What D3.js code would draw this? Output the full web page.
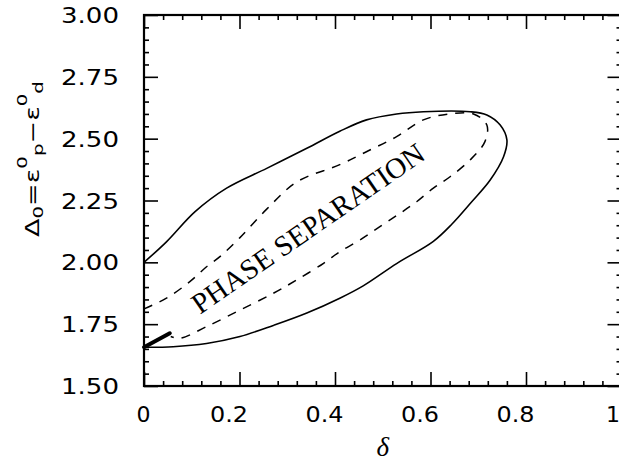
<!DOCTYPE html>
<html>
<head>
<meta charset="utf-8">
<script src="https://cdn.jsdelivr.net/npm/d3@7"></script>
<style>
  html, body { margin: 0; padding: 0; background: #fff; }
  svg { display: block; }
</style>
</head>
<body>
<div id="chart"></div>
<script>
'use strict'

// tick values and labels
const deltaTicks = [0, 0.2, 0.4, 0.6, 0.8, 1];
const deltaTickLabels = ['0', '0.2', '0.4', '0.6', '0.8', '1'];
const gapTicks = [1.5, 1.75, 2.0, 2.25, 2.5, 2.75, 3.0];
const gapTickLabels = ['1.50', '1.75', '2.00', '2.25', '2.50', '2.75', '3.00'];

// outer (solid) boundary
const solidDelta = [0, 0.047, 0.107, 0.173, 0.257, 0.341, 0.41, 0.466, 0.529, 0.585, 0.683,
  0.718, 0.746, 0.76, 0.753, 0.725, 0.685, 0.645, 0.606, 0.529, 0.459, 0.41, 0.341,
  0.271, 0.201, 0.131, 0.061, 0];
const solidGap = [2.0, 2.083, 2.205, 2.30, 2.38, 2.461, 2.53, 2.576, 2.60, 2.609, 2.609,
  2.596, 2.555, 2.495, 2.427, 2.333, 2.242, 2.155, 2.085, 1.995, 1.905, 1.855, 1.795,
  1.745, 1.70, 1.672, 1.659, 1.657];

// inner (dashed) boundary
const dashedDelta = [0, 0.047, 0.096, 0.131, 0.159, 0.201, 0.257, 0.32, 0.41, 0.473, 0.529,
  0.585, 0.64, 0.69, 0.718, 0.714, 0.683, 0.641, 0.606, 0.571, 0.536, 0.494, 0.452,
  0.41, 0.376, 0.32, 0.271, 0.201, 0.131, 0.075, 0.056];
const dashedGap = [1.812, 1.855, 1.922, 1.982, 2.023, 2.10, 2.215, 2.325, 2.395, 2.454, 2.508,
  2.576, 2.60, 2.60, 2.555, 2.488, 2.414, 2.346, 2.30, 2.245, 2.198, 2.144, 2.09,
  2.043, 1.996, 1.929, 1.875, 1.807, 1.74, 1.693, 1.70];

// short first-order segment near the origin
const firstOrderDelta = [0, 0.054];
const firstOrderGap = [1.657, 1.713];

const regionLabel = 'PHASE SEPARATION';
const regionLabelAt = [0.355, 2.105];

const width = 619;
const height = 465;
const margin = { top: 15, left: 144, bottom: 79 };
const plotW = 477.5;

const svg = d3.select('#chart')
  .append('svg')
    .attr('width', width)
    .attr('height', height);

const x = d3.scaleLinear()
  .domain([0, 1])
  .range([margin.left, margin.left + plotW]);

const y = d3.scaleLinear()
  .domain([1.5, 3.0])
  .range([height - margin.bottom, margin.top]);

const minorX = d3.range(0, 1.0001, 0.04).filter(v => Math.abs(v * 5 - Math.round(v * 5)) > 1e-6);
const minorY = d3.range(1.5, 3.0001, 0.05).filter(v => Math.abs(v * 4 - Math.round(v * 4)) > 1e-6);

const numFont = '"DejaVu Sans", sans-serif';

// helper: draw one side of the frame (major + minor ticks)
function side(axisFn, scale, majors, minors, pos, labels, pad) {
  const gMaj = svg.append('g')
    .attr('transform', pos)
    .call(axisFn(scale)
      .tickValues(majors)
      .tickSizeInner(-14)
      .tickSizeOuter(0)
      .tickPadding(pad || 0)
      .tickFormat((d, i) => labels ? labels[i] : ''));
  svg.append('g')
    .attr('transform', pos)
    .call(axisFn(scale)
      .tickValues(minors)
      .tickSizeInner(-5)
      .tickSizeOuter(0)
      .tickFormat(''));
  return gMaj;
}

const bottom = side(d3.axisBottom, x, deltaTicks, minorX, `translate(0,${y(1.5)})`, deltaTickLabels, 21);
side(d3.axisTop, x, deltaTicks, minorX, `translate(0,${y(3.0)})`, null);
const left = side(d3.axisLeft, y, gapTicks, minorY, `translate(${x(0)},0)`, gapTickLabels, 25);
side(d3.axisRight, y, gapTicks, minorY, `translate(${x(1)},0)`, null);

svg.selectAll('.domain').remove();
svg.selectAll('.tick line')
  .attr('stroke', '#000')
  .attr('stroke-width', 1.6);

// the printed numerals are wide, so stretch them to the measured widths
bottom.selectAll('text')
  .style('font-family', numFont)
  .style('font-size', '21px')
  .attr('fill', '#000')
  .attr('textLength', (d, i) => deltaTickLabels[i].length > 1 ? 38 : 14)
  .attr('lengthAdjust', 'spacingAndGlyphs')
  .attr('dx', d => d === 0 ? -1 : (d === 1 ? -9 : -11));

left.selectAll('text')
  .style('font-family', numFont)
  .style('font-size', '21px')
  .attr('fill', '#000')
  .attr('textLength', 58)
  .attr('lengthAdjust', 'spacingAndGlyphs')
  .attr('dy', '0.36em');

// frame
svg.append('rect')
  .attr('x', x(0))
  .attr('y', y(3.0))
  .attr('width', x(1) - x(0))
  .attr('height', y(1.5) - y(3.0))
  .attr('fill', 'none')
  .attr('stroke', '#000')
  .attr('stroke-width', 2.2);

// curves
const line = d3.line()
  .x(d => x(d[0]))
  .y(d => y(d[1]))
  .curve(d3.curveCatmullRom.alpha(0.5));

svg.append('path')
  .datum(d3.zip(solidDelta, solidGap))
  .attr('d', line)
  .attr('fill', 'none')
  .attr('stroke', '#000')
  .attr('stroke-width', 1.6);

svg.append('path')
  .datum(d3.zip(dashedDelta, dashedGap))
  .attr('d', line)
  .attr('fill', 'none')
  .attr('stroke', '#000')
  .attr('stroke-width', 1.5)
  .attr('stroke-dasharray', '9,8');

svg.append('path')
  .datum(d3.zip(firstOrderDelta, firstOrderGap))
  .attr('d', d3.line().x(d => x(d[0])).y(d => y(d[1])))
  .attr('fill', 'none')
  .attr('stroke', '#000')
  .attr('stroke-width', 4)
  .attr('stroke-linecap', 'round');

// region label
svg.append('text')
  .attr('transform', `translate(${x(regionLabelAt[0])},${y(regionLabelAt[1])}) rotate(-34.6)`)
  .attr('text-anchor', 'middle')
  .style('font-family', '"Liberation Serif", serif')
  .style('font-size', '29px')
  .attr('textLength', 276)
  .attr('lengthAdjust', 'spacing')
  .attr('fill', '#000')
  .text(regionLabel);

// axis titles
svg.append('text')
  .attr('x', x(0.5))
  .attr('y', 456)
  .attr('text-anchor', 'middle')
  .style('font-family', '"Liberation Serif", serif')
  .style('font-style', 'italic')
  .style('font-size', '27px')
  .text('δ');

const yTitle = svg.append('text')
  .attr('transform', 'translate(39,159) rotate(-90)')
  .attr('text-anchor', 'middle')
  .style('font-family', numFont)
  .style('font-size', '19px')
  .attr('textLength', 156)
  .attr('lengthAdjust', 'spacingAndGlyphs');

yTitle.append('tspan').text('Δ');
yTitle.append('tspan').style('font-size', '14px').attr('dy', 4).text('0');
yTitle.append('tspan').attr('dy', -4).text('=');
yTitle.append('tspan').text('ε');
yTitle.append('tspan').style('font-size', '14px').attr('dy', -12).text('0');
yTitle.append('tspan').style('font-size', '14px').attr('dy', 16).text('p');
yTitle.append('tspan').attr('dy', -4).text('−');
yTitle.append('tspan').text('ε');
yTitle.append('tspan').style('font-size', '14px').attr('dy', -12).text('0');
yTitle.append('tspan').style('font-size', '14px').attr('dy', 16).text('d');
</script>
</body>
</html>
